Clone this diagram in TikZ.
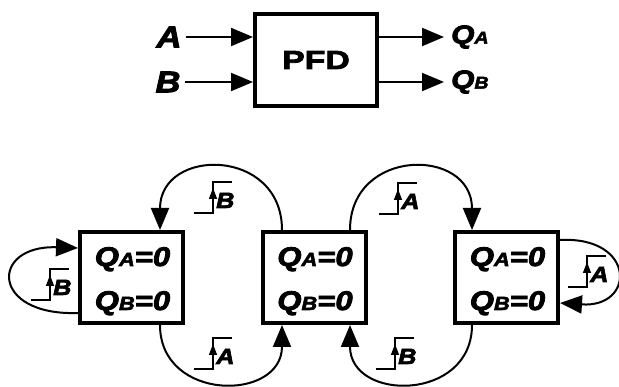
\documentclass[tikz,border=0pt]{standalone}
\usepackage{fontspec}
\setmainfont{Liberation Sans}[FakeStretch=1.15, BoldFeatures={FakeBold=3}, BoldItalicFeatures={FakeBold=3}]
\newfontfamily\blockfont{Liberation Sans}[FakeStretch=1.3, BoldFeatures={FakeBold=3}]
\usetikzlibrary{arrows.meta}

\tikzset{
  bigtip/.tip={Triangle[length=22pt,width=18pt]},
  statebox/.style={draw,line width=4pt,minimum width=103pt,minimum height=91pt,inner sep=0pt},
  flow/.style={line width=2pt,-bigtip},
  stepline/.style={line width=1.4pt},
  lbl/.style={inner sep=0pt,font=\bfseries\itshape},
  edgestep/.pic={
    \draw[stepline] (-19,0) -- (0,0) -- (0,-31) -- (19,-31);
    \draw[stepline,-{Triangle[length=11pt,width=8pt]}] (0,0) -- (0,-25);
    \node[lbl,anchor=base west,font=\fontsize{22}{22}\selectfont\bfseries\itshape] at (3,-5) {#1};
  }
}
\newcommand\qsub[3]{#1{\fontsize{#3}{#3}\selectfont #2}}

\begin{document}
\begin{tikzpicture}[x=1pt,y=-1pt]
  \useasboundingbox (0,0) rectangle (619,387);

  % ---- block symbol ----
  \node[draw,line width=4pt,minimum width=122pt,minimum height=92pt,inner sep=0pt,
        font=\fontsize{26}{26}\blockfont\bfseries] (pfd) at (316,60) {PFD};
  \node[lbl,font=\fontsize{30}{30}\selectfont\bfseries\itshape] (A) at (169,37) {A};
  \node[lbl,font=\fontsize{30}{30}\selectfont\bfseries\itshape] (B) at (168,82) {B};
  \node[lbl,anchor=west,font=\fontsize{26}{26}\selectfont\bfseries\itshape] (QA) at (451,37) {\qsub{Q}{A}{17}};
  \node[lbl,anchor=west,font=\fontsize{26}{26}\selectfont\bfseries\itshape] (QB) at (451,82) {\qsub{Q}{B}{17}};
  \draw[flow] ([xshift=4pt]A.east) -- (pfd.west |- A);
  \draw[flow] ([xshift=4pt]B.east) -- (pfd.west |- B);
  \draw[flow] (pfd.east |- QA) -- ([xshift=-7pt]QA.west);
  \draw[flow] (pfd.east |- QB) -- ([xshift=-7pt]QB.west);

  % ---- state diagram ----
  \foreach \n/\x in {s1/131.5,s2/314,s3/506.5}{
    \node[statebox] (\n) at (\x,277.5) {};
    \node[lbl,anchor=base,font=\fontsize{27}{27}\selectfont\bfseries\itshape] at (\x+1,266) {\qsub{Q}{A}{19}=0};
    \node[lbl,anchor=base,font=\fontsize{27}{27}\selectfont\bfseries\itshape] at (\x+1,310) {\qsub{Q}{B}{19}=0};
  }

  % transitions between states
  \draw[flow] (s2.north -| 282,0) .. controls (282,147) and (160,147) .. (s1.north -| 160,0);
  \draw[flow] (s2.north -| 350,0) .. controls (350,147) and (472,147) .. (s3.north -| 472,0);
  \draw[flow] (s1.south -| 160,0) .. controls (160,402) and (282,402) .. (s2.south -| 282,0);
  \draw[flow] (s3.south -| 472,0) .. controls (472,402) and (350,402) .. (s2.south -| 350,0);

  % self loops
  \draw[flow] (s1.west |- 0,313) .. controls (-10,316) and (-10,245) .. (s1.west |- 0,248);
  \draw[flow] (s3.east |- 0,240) .. controls (636,236) and (636,308) .. (s3.east |- 0,303);

  % edge conditions
  \pic at (213,213) {edgestep=B};
  \pic at (398,214) {edgestep=A};
  \pic at (213,369) {edgestep=A};
  \pic at (395,369) {edgestep=B};
  \pic at (50,300) {edgestep=B};
  \pic at (587,287) {edgestep=A};
\end{tikzpicture}
\end{document}
